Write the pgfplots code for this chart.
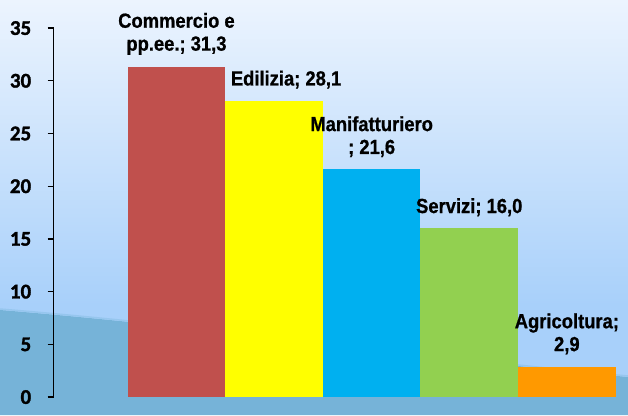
\documentclass[border=0pt]{standalone}
\usepackage{pgfplots}
\pgfplotsset{compat=1.18}
\usepackage{fontspec}
\setmainfont{Liberation Sans}
\newfontfamily\labf[FakeStretch=0.9, BoldFeatures={FakeBold=0.8}]{Liberation Sans}
\newfontfamily\tickf[BoldFeatures={FakeBold=1.5}]{Carlito}
\definecolor{bgtop}{RGB}{236,244,254}
\definecolor{bgbot}{RGB}{168,208,250}
\definecolor{wave}{RGB}{118,179,216}
\definecolor{waveedge}{RGB}{150,198,238}
\definecolor{cred}{RGB}{192,80,77}
\definecolor{cyel}{RGB}{255,255,0}
\definecolor{cblu}{RGB}{0,176,240}
\definecolor{cgrn}{RGB}{146,208,80}
\definecolor{corg}{RGB}{255,153,0}
\begin{document}
\begin{tikzpicture}[x=1bp,y=1bp]
\useasboundingbox (0,0) rectangle (628,415);
\fill[bgbot] (0,0) rectangle (628,110);
\shade[top color=bgtop, bottom color=bgbot] (0,110) rectangle (628,415);
\fill[wave] (0,105) .. controls (230,86) and (430,56) .. (628,38) -- (628,0) -- (0,0) -- cycle;
\draw[waveedge, line width=1.5bp] (0,106) .. controls (230,87) and (430,57) .. (628,39);
\begin{axis}[
  at={(55,17)}, anchor=south west,
  scale only axis, width=573bp, height=369bp,
  xmin=-1.258, xmax=4.613, ymin=0, ymax=35,
  axis x line=none, axis y line*=left,
  ytick={0,5,...,35},
  tick align=outside, major tick length=6bp,
  axis line style={black, line width=1.2bp},
  tick style={black, line width=1.2bp},
  yticklabel={\tickf\bfseries\fontsize{21}{21}\selectfont\pgfmathprintnumber[assume math mode=true]{\tick}},
  yticklabel style={text=black, anchor=east, xshift=-13bp},
  clip=false,
  every node near coord/.append style={font=\labf\bfseries\fontsize{20.5}{23}\selectfont, align=center, anchor=south, inner sep=0pt, yshift=12bp, text=black},
]
\addplot[ybar, bar width=1, bar shift=0pt, fill=cred, draw=none, nodes near coords={Commercio e\\pp.ee.; 31,3}] coordinates {(0,31.3)};
\addplot[ybar, bar width=1, bar shift=0pt, fill=cyel, draw=none, nodes near coords={Edilizia; 28,1}, every node near coord/.append style={xshift=12bp}] coordinates {(1,28.1)};
\addplot[ybar, bar width=1, bar shift=0pt, fill=cblu, draw=none, nodes near coords={Manifatturiero\\; 21,6}] coordinates {(2,21.6)};
\addplot[ybar, bar width=1, bar shift=0pt, fill=cgrn, draw=none, nodes near coords={Servizi; 16,0}] coordinates {(3,16.0)};
\addplot[ybar, bar width=1, bar shift=0pt, fill=corg, draw=none, nodes near coords={Agricoltura;\\2,9}] coordinates {(4,2.9)};
\end{axis}
\end{tikzpicture}
\end{document}
